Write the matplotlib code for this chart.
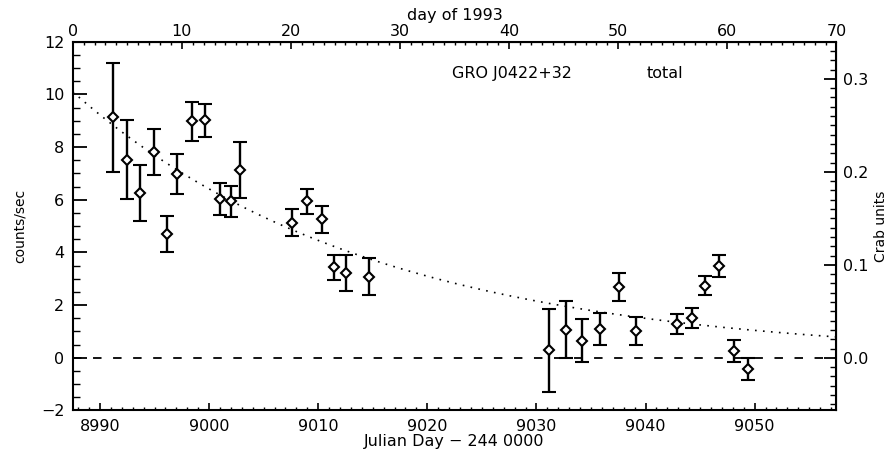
import numpy as np
import matplotlib
matplotlib.use("Agg")
import matplotlib.pyplot as plt
from matplotlib.ticker import MultipleLocator, FixedLocator, FormatStrFormatter

# Julian Day - 2440000
jd = [8991.22, 8992.50, 8993.67, 8994.95, 8996.12, 8997.09, 8998.46, 8999.62,
      9000.97, 9002.04, 9002.86, 9007.63, 9009.00, 9010.32, 9011.42, 9012.52,
      9014.66, 9031.18, 9032.68, 9034.15, 9035.85, 9037.54, 9039.10, 9042.91,
      9044.29, 9045.48, 9046.71, 9048.08, 9049.39]
# counts/sec
rate = [9.13, 7.52, 6.25, 7.82, 4.70, 6.96, 8.97, 9.02,
        6.02, 5.94, 7.13, 5.13, 5.94, 5.25, 3.43, 3.21,
        3.08, 0.28, 1.07, 0.65, 1.09, 2.69, 1.00, 1.28,
        1.52, 2.73, 3.47, 0.25, -0.41]
rate_err = [2.06, 1.49, 1.07, 0.88, 0.70, 0.76, 0.75, 0.62,
            0.60, 0.58, 1.05, 0.52, 0.48, 0.51, 0.46, 0.69,
            0.69, 1.57, 1.09, 0.81, 0.62, 0.54, 0.53, 0.39,
            0.37, 0.36, 0.42, 0.41, 0.42]

# exponential decay model (dotted)
model_amp = 10.1      # counts/sec at start of 1993
model_tau = 27.5      # days
jd_1993 = 8987.5      # JD of 1993 Jan 0.0 (day 0)
crab_rate = 35.3      # counts/sec per Crab

day_ticks = [0, 10, 20, 30, 40, 50, 60, 70]
crab_ticks = [0.0, 0.1, 0.2, 0.3]

fig = plt.figure(figsize=(8.93, 4.5), dpi=100)
ax = fig.add_axes([0.0814, 0.0878, 0.8553, 0.8196])

ax.axhline(0, color="black", lw=1.3, dashes=(4.7, 6.4))

tt = np.linspace(jd_1993, jd_1993 + 70, 300)
ax.plot(tt, model_amp * np.exp(-(tt - jd_1993) / model_tau), color="black",
        lw=1.2, dashes=(1, 3.8))

ax.errorbar(jd, rate, yerr=rate_err, fmt="D", ms=5, mfc="white", mec="black",
            mew=1.5, ecolor="black", elinewidth=1.7, capsize=5, capthick=1.5,
            zorder=3)

ax.set_xlim(jd_1993, jd_1993 + 70)
ax.set_ylim(-2, 12)
for s in ax.spines.values():
    s.set_linewidth(1.5)

ax.xaxis.set_major_locator(MultipleLocator(10))
ax.xaxis.set_minor_locator(MultipleLocator(1))
ax.yaxis.set_major_locator(MultipleLocator(2))
ax.yaxis.set_minor_locator(MultipleLocator(0.5))
ax.tick_params(axis="x", which="major", direction="in", length=5, width=1.2,
               labelsize=11.5, pad=6)
ax.tick_params(axis="x", which="minor", direction="in", length=2.5, width=1)
ax.tick_params(axis="y", which="major", direction="in", length=10, width=1.3,
               labelsize=11.5, pad=6)
ax.tick_params(axis="y", which="minor", direction="in", length=5, width=1)
ax.set_xlabel("Julian Day \u2212 244 0000", fontsize=11.5, labelpad=0)
ax.set_ylabel("counts/sec", fontsize=10, labelpad=10)

top = ax.secondary_xaxis("top", functions=(lambda x: x - jd_1993,
                                           lambda d: d + jd_1993))
top.xaxis.set_major_locator(FixedLocator(day_ticks))
top.xaxis.set_minor_locator(FixedLocator(np.arange(0, 71, 1)))
top.tick_params(which="major", direction="in", length=5, width=1.2,
                labelsize=11.5, pad=2)
top.tick_params(which="minor", direction="in", length=2.5, width=1)
top.set_xlabel("day of 1993", fontsize=11.5, labelpad=2.5)

right = ax.secondary_yaxis("right", functions=(lambda c: c / crab_rate,
                                               lambda k: k * crab_rate))
right.yaxis.set_major_locator(FixedLocator(crab_ticks))
right.yaxis.set_minor_locator(FixedLocator(np.arange(-0.05, 0.345, 0.01)))
right.yaxis.set_major_formatter(FormatStrFormatter("%.1f"))
right.tick_params(which="major", direction="in", length=9, width=1.3,
                  labelsize=11.5, pad=5)
right.tick_params(which="minor", direction="in", length=4.5, width=1)
right.set_ylabel("Crab units", fontsize=10, labelpad=4)

ax.text(9022.3, 10.8, "GRO J0422+32", fontsize=11.5, va="center", ha="left")
ax.text(9040.1, 10.8, "total", fontsize=11.5, va="center", ha="left")

fig.savefig("out.png", dpi=100)
